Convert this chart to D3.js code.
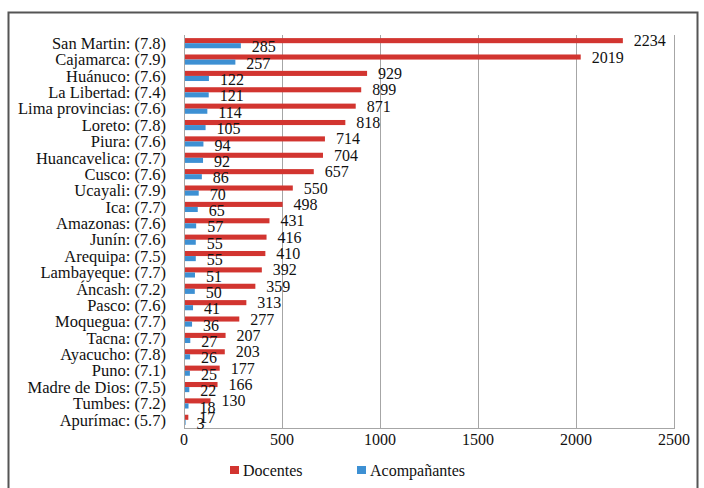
<!DOCTYPE html>
<html>
<head>
<meta charset="utf-8">
<script src="https://cdn.jsdelivr.net/npm/d3@7"></script>
</head>
<body style="margin:0">
<div id="chart"></div>
<script>
// data
let regions = ["San Martin", "Cajamarca", "Huánuco", "La Libertad", "Lima provincias", "Loreto",
  "Piura", "Huancavelica", "Cusco", "Ucayali", "Ica", "Amazonas", "Junín", "Arequipa",
  "Lambayeque", "Áncash", "Pasco", "Moquegua", "Tacna", "Ayacucho", "Puno", "Madre de Dios",
  "Tumbes", "Apurímac"];
let scores = ["7.8", "7.9", "7.6", "7.4", "7.6", "7.8", "7.6", "7.7", "7.6", "7.9", "7.7", "7.6",
  "7.6", "7.5", "7.7", "7.2", "7.6", "7.7", "7.7", "7.8", "7.1", "7.5", "7.2", "5.7"];
let docentes = [2234, 2019, 929, 899, 871, 818, 714, 704, 657, 550, 498, 431, 416, 410, 392,
  359, 313, 277, 207, 203, 177, 166, 130, 17];
let acompanantes = [285, 257, 122, 121, 114, 105, 94, 92, 86, 70, 65, 57, 55, 55, 51, 50, 41,
  36, 27, 26, 25, 22, 18, 3];
let xTicks = [0, 500, 1000, 1500, 2000, 2500];
let seriesNames = ["Docentes", "Acompañantes"];
let colors = ["#d23530", "#3d90d3"];

let width = 704, height = 488;
let plotLeft = 184, plotRight = 674, plotTop = 35, plotBottom = 428;

let svg = d3.select("#chart").append("svg")
  .attr("width", width)
  .attr("height", height);

// every label goes through here so the serif face is set on the element itself
function label(sel, size) {
  return sel
    .attr("font-family", "Times New Roman, Liberation Serif, serif")
    .attr("font-size", size)
    .attr("fill", "#111");
}

// outer frame
svg.append("rect")
  .attr("x", 8.5).attr("y", 12.5)
  .attr("width", 689).attr("height", 490)
  .attr("fill", "none")
  .attr("stroke", "#555")
  .attr("stroke-width", 2);

let xScale = d3.scaleLinear().domain([0, 2500]).range([plotLeft, plotRight]);
let yScale = d3.scaleBand().domain(d3.range(regions.length)).range([plotTop, plotBottom]).paddingInner(0.38).paddingOuter(0.19);
let sub = d3.scaleBand().domain([0, 1]).range([0, yScale.bandwidth()]);

// gridlines
svg.append("g")
  .selectAll("line")
  .data(xTicks)
  .enter()
  .append("line")
  .attr("x1", d => xScale(d) + 0.5)
  .attr("x2", d => xScale(d) + 0.5)
  .attr("y1", plotTop)
  .attr("y2", plotBottom)
  .attr("stroke", "#a6a6a6")
  .attr("stroke-width", 1);

// bottom axis line and labels
svg.append("line")
  .attr("x1", plotLeft).attr("x2", plotRight + 1)
  .attr("y1", plotBottom + 0.5).attr("y2", plotBottom + 0.5)
  .attr("stroke", "#a6a6a6");

label(svg.append("g")
  .selectAll("text")
  .data(xTicks)
  .enter()
  .append("text")
  .attr("x", d => xScale(d))
  .attr("y", plotBottom + 17)
  .attr("text-anchor", "middle"), 16)
  .text(d => d);

// category labels
label(svg.append("g")
  .selectAll("text")
  .data(regions)
  .enter()
  .append("text")
  .attr("x", 166)
  .attr("y", (d, i) => yScale(i) + yScale.bandwidth() / 2)
  .attr("dy", "0.35em")
  .attr("text-anchor", "end"), 16.5)
  .text((d, i) => d + ": (" + scores[i] + ")");

// bars
let series = [docentes, acompanantes];
series.forEach(function(vals, s) {
  let g = svg.append("g");
  g.selectAll("rect")
    .data(vals)
    .enter()
    .append("rect")
    .attr("x", xScale(0) + 1)
    .attr("y", (d, i) => yScale(i) + sub(s))
    .attr("width", d => xScale(d) - xScale(0))
    .attr("height", sub.bandwidth())
    .attr("fill", colors[s]);

  label(g.selectAll("text")
    .data(vals)
    .enter()
    .append("text")
    .attr("x", d => xScale(d) + 12)
    .attr("y", (d, i) => yScale(i) + sub(s) + sub.bandwidth() / 2 + (s === 1 ? 1 : 0))
    .attr("dy", "0.35em"), 16)
    .text(d => d);
});

// legend
let legend = svg.append("g");
let legendX = [230, 357];
seriesNames.forEach(function(name, s) {
  legend.append("rect")
    .attr("x", legendX[s]).attr("y", 466)
    .attr("width", 9).attr("height", 8)
    .attr("fill", colors[s]);
  label(legend.append("text")
    .attr("x", legendX[s] + 13)
    .attr("y", 470)
    .attr("dy", "0.35em"), 16)
    .text(name);
});
</script>
</body>
</html>
